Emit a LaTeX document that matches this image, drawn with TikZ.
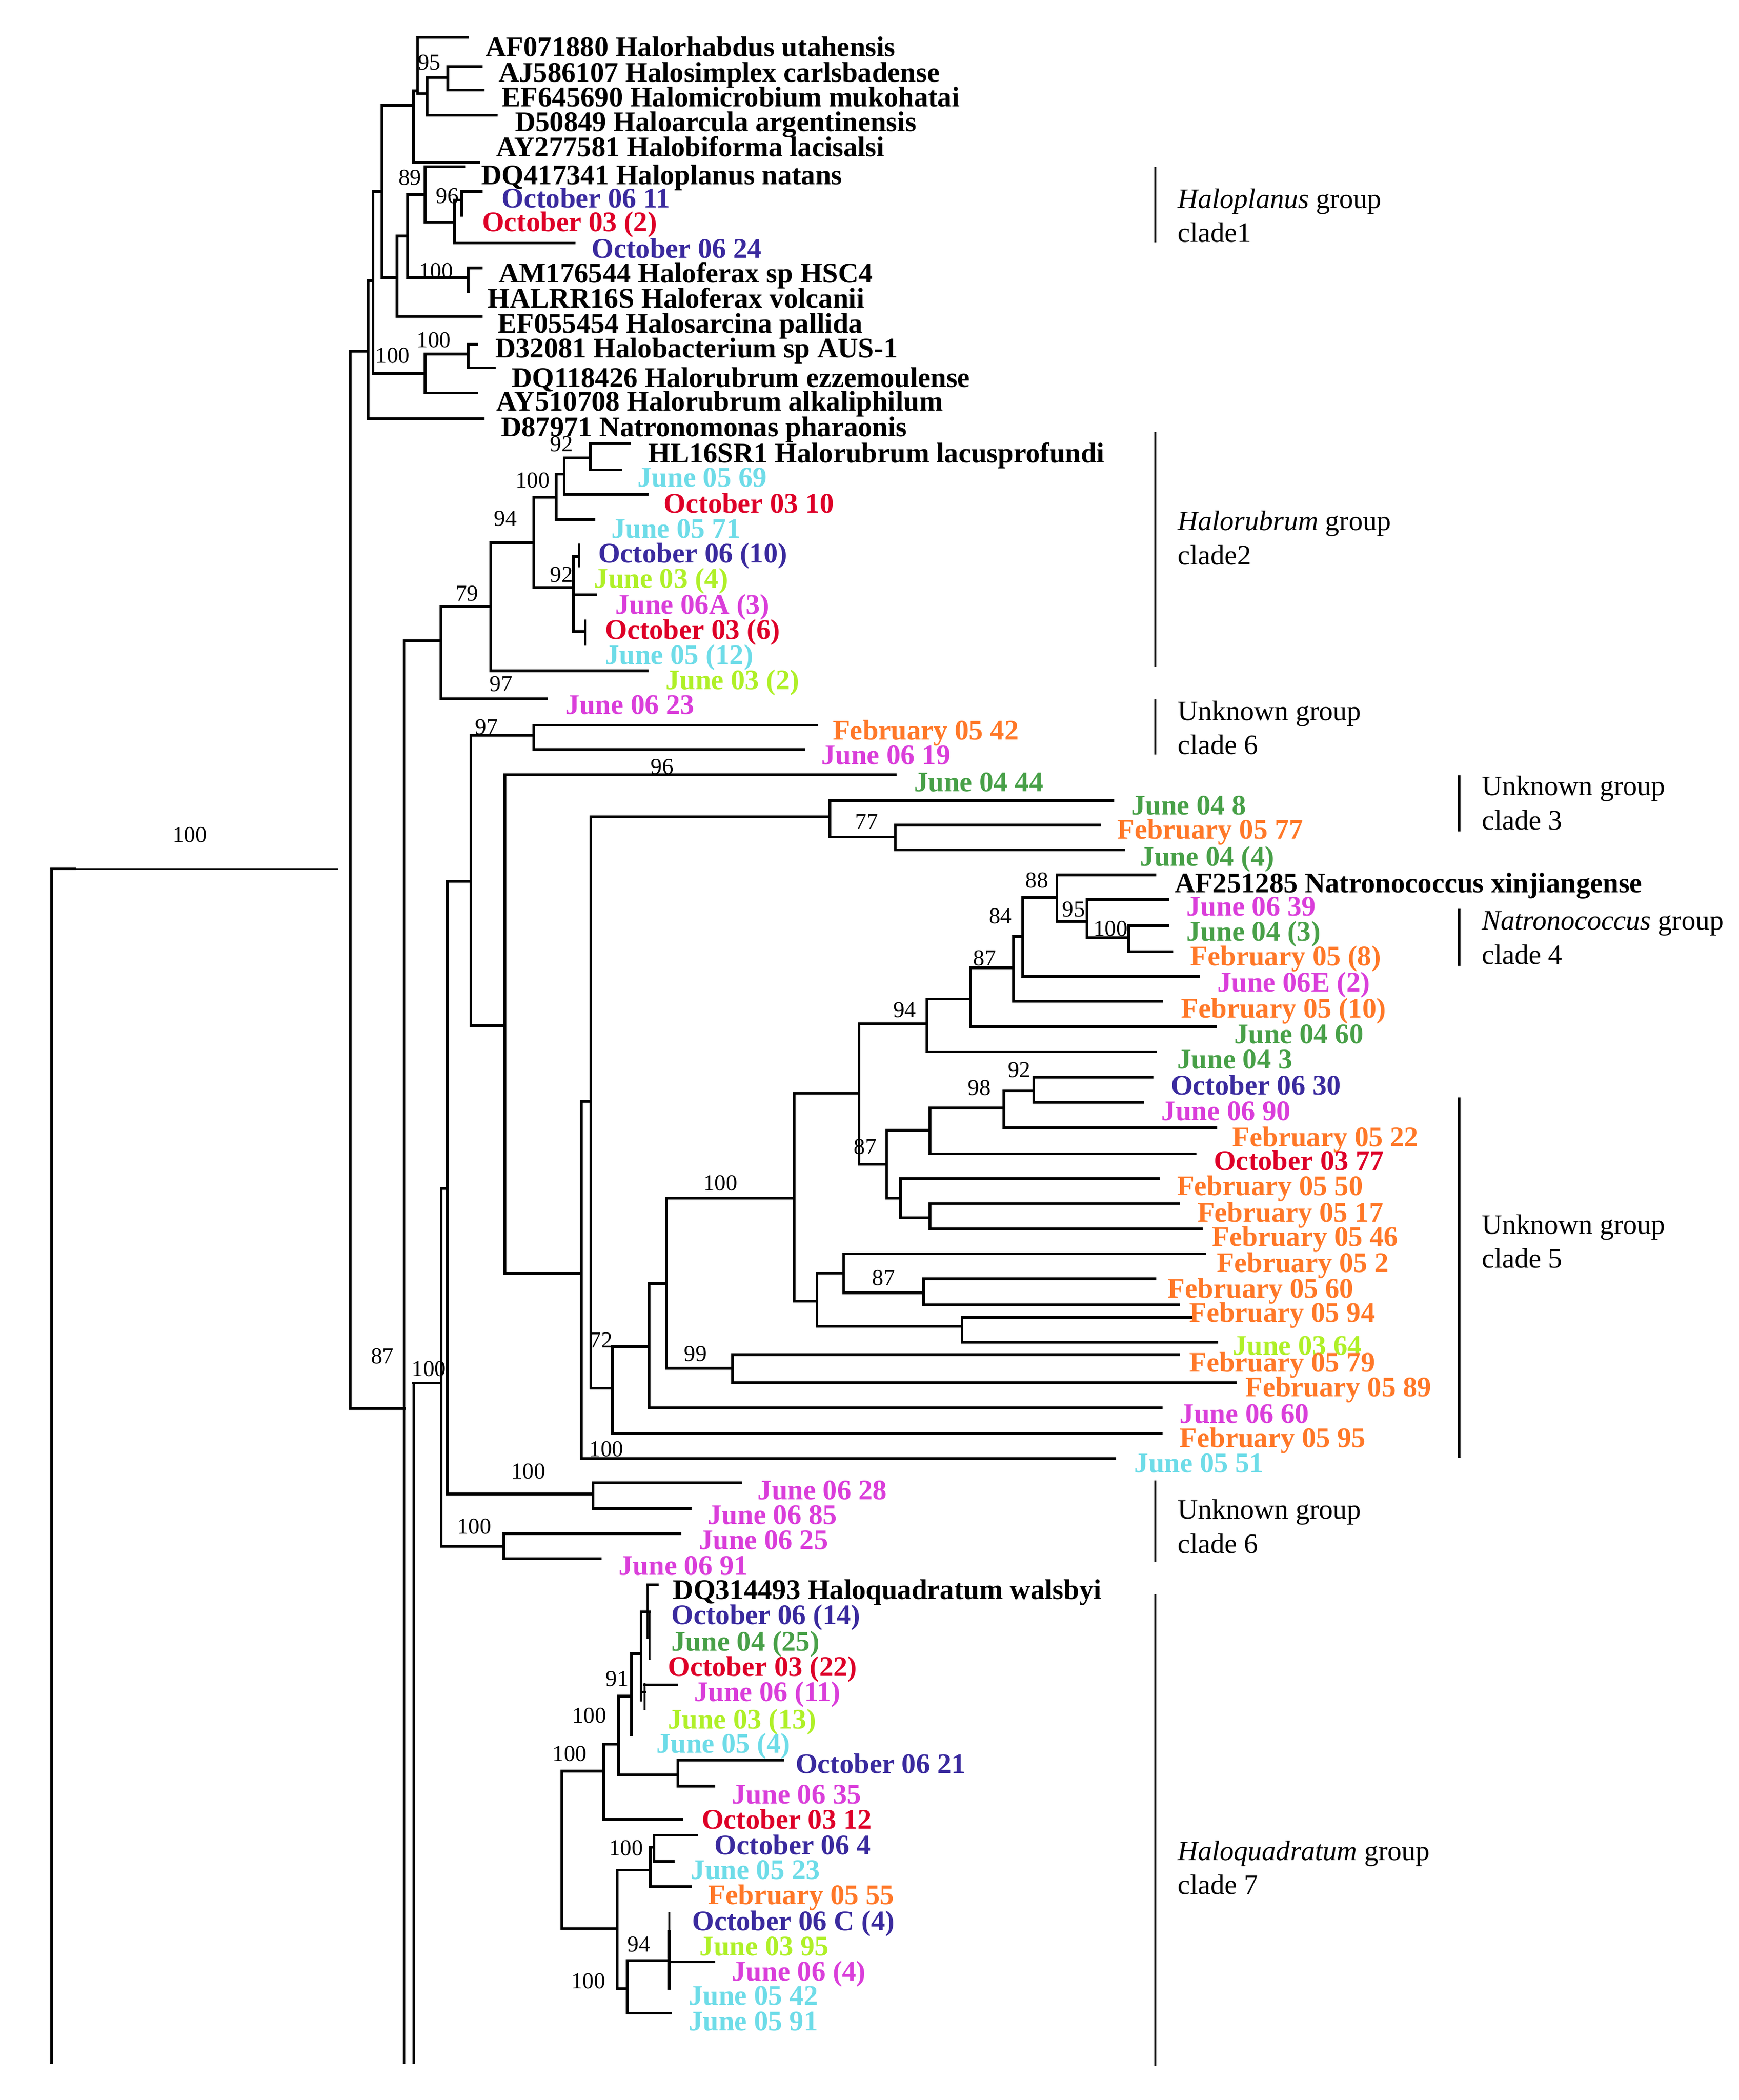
\documentclass[tikz,border=0pt]{standalone}
\usepackage{fontspec}
\setmainfont{Liberation Serif}
\definecolor{cblue}{RGB}{58,42,158}
\definecolor{cred}{RGB}{222,0,40}
\definecolor{ccyan}{RGB}{110,220,232}
\definecolor{cyg}{RGB}{175,240,40}
\definecolor{cmag}{RGB}{218,62,218}
\definecolor{corange}{RGB}{255,120,40}
\definecolor{cgreen}{RGB}{72,160,72}
\newcommand\brh[3]{\draw[br] (#2,#1) -- (#3,#1);}
\newcommand\brv[3]{\draw[br] (#1,#2) -- (#1,#3);}
\newcommand\tx[5]{\node[taxon,text=#4] (#1) at (#2,#3) {#5};}
\newcommand\bs[4]{\node[boot] (#1) at (#2,#3) {#4};}
\newcommand\clade[8]{\draw[bar] (#2,#3) -- (#2,#4);
  \node[clab] (#1a) at (#5,#6) {#7};
  \node[clab] (#1b) at (#5,{#6+25.5}) {#8};}
\begin{document}
\begin{tikzpicture}[x=1pt,y=-1pt,
 br/.style={line width=2pt,line cap=rect},
 taxon/.style={anchor=west,inner sep=0pt,text height=14pt,text depth=0pt,font=\fontsize{21.2}{21.2}\selectfont\bfseries},
 boot/.style={inner sep=0pt,font=\fontsize{17}{17}\selectfont},
 clab/.style={anchor=west,inner sep=0pt,text height=14pt,text depth=0pt,font=\fontsize{21}{21}\selectfont},
 bar/.style={line width=1.6pt}]
\useasboundingbox[fill=white] (0,0) rectangle (1300,1570);

% ---------- root ----------
\draw[line width=2pt] (38.7,1543) -- (38.7,649.5) -- (57,649.5);
\draw[line width=1pt] (57,649.5) -- (252.8,649.5);

% ---------- top group ----------
\brv{262}{262.6}{1053}
\brh{262.6}{262}{275.2}
\brv{275.2}{209.7}{313.1}
\brh{313.1}{275.2}{361.4}
\brh{209.7}{275.2}{279}
\brv{279}{143.2}{279.2}
\brh{279.2}{279}{317.8}
\brv{317.8}{264.7}{293.8}
\brh{293.8}{317.8}{356.6}
\brh{264.7}{317.8}{350.1}
\brv{350.1}{257.4}{275}
\brh{257.4}{350.1}{356.6}
\brh{275}{350.1}{369.5}
\brh{143.2}{279}{285.5}
\brv{285.5}{78.9}{207.6}
\brh{207.6}{285.5}{296.8}
\brv{296.8}{176.5}{236.7}
\brh{236.7}{296.8}{359.8}
\brh{176.5}{296.8}{304.9}
\brv{304.9}{145.3}{207.6}
\brh{207.6}{304.9}{350.1}
\brv{350.1}{200.3}{218}
\brh{200.3}{350.1}{359.8}
\brh{145.3}{304.9}{317.8}
\brv{317.8}{124.6}{166.1}
\brh{124.6}{317.8}{346.9}
\brh{166.1}{317.8}{339.8}
\brv{339.8}{149.5}{181.7}
\brh{181.7}{339.8}{429.2}
\brh{149.5}{339.8}{345.3}
\brv{345.3}{143.2}{160.9}
\brh{143.2}{345.3}{359.8}
\brh{78.9}{285.5}{309.1}
\brv{309.1}{68}{121.4}
\brh{121.4}{309.1}{358.2}
\brh{68}{309.1}{312.3}
\brv{312.3}{28}{70}
\brh{28}{312.3}{349.5}
\brh{70}{312.3}{319.4}
\brv{319.4}{58.1}{86.2}
\brh{86.2}{319.4}{371.1}
\brh{58.1}{319.4}{334.9}
\brv{334.9}{49.8}{67.5}
\brh{49.8}{334.9}{359.8}
\brh{67.5}{334.9}{361.4}

% ---------- Halorubrum group ----------
\draw[line width=1.8pt] (302.2,479) -- (302.2,1543);
\brh{1053}{262}{302.2}
\brh{479}{302.2}{329.6}
\brv{329.6}{453.5}{522.5}
\brh{522.5}{329.6}{408.8}
\brh{453.5}{329.6}{366.9}
\brv{366.9}{405.6}{501.5}
\brh{501.5}{366.9}{483.7}
\brh{405.6}{366.9}{399}
\brv{399}{371.9}{439.3}
\brh{371.9}{399}{415.9}
\brv{415.9}{354.6}{388.3}
\brh{388.3}{415.9}{444.1}
\brh{354.6}{415.9}{421.8}
\brv{421.8}{342.2}{369.6}
\brh{369.6}{421.8}{483.7}
\brh{342.2}{421.8}{441.4}
\brv{441.4}{331.4}{351.2}
\brh{331.4}{441.4}{470.8}
\brh{351.2}{441.4}{464.1}
\brh{439.3}{399}{428.8}
\brv{428.8}{416.1}{472.3}
\brh{416.1}{428.8}{432.7}
\draw[line width=1.4pt] (432.7,406.3) -- (432.7,424.3);
\brh{444.5}{428.8}{445.3}
\brh{472.3}{428.8}{437.4}
\draw[line width=1.4pt] (437.4,463.3) -- (437.4,482.8);

% ---------- middle ----------
\draw[line width=1.8pt] (309.2,1034) -- (309.2,1543);
\brh{1034}{309.2}{330}
\brv{330}{888.6}{1156.1}
\brh{1156.1}{330}{376.7}
\brv{376.7}{1146.5}{1165.2}
\brh{1146.5}{376.7}{508.5}
\brh{1165.2}{376.7}{448.7}
\brh{888.6}{330}{334.5}
\brv{334.5}{659}{1116.9}
\brh{1116.9}{334.5}{443.5}
\brv{443.5}{1108.5}{1127.8}
\brh{1108.5}{443.5}{553.5}
\brh{1127.8}{443.5}{516.2}
\brh{659}{334.5}{352}
\brv{352}{549.6}{767}
\brh{549.6}{352}{399}
\brv{399}{542.2}{560.4}
\brh{542.2}{399}{610.7}
\brh{560.4}{399}{600.9}
\brh{767}{352}{377.5}
\brv{377.5}{579}{952}
\brh{579}{377.5}{669.5}
\brh{952}{377.5}{434.7}
\brv{434.7}{823.4}{1090.5}
\brh{1090.5}{434.7}{833.7}
\brh{823.4}{434.7}{441.6}
\brv{441.6}{610.5}{1038}
\brh{610.5}{441.6}{620.5}
\brv{620.5}{598.4}{625.8}
\brh{598.4}{620.5}{832.2}
\brh{625.8}{620.5}{669.5}
\brv{669.5}{616.9}{635.5}
\brh{616.9}{669.5}{822.4}
\brh{635.5}{669.5}{840}
\brh{1038}{441.6}{457.8}
\brv{457.8}{1006.6}{1071.8}
\brh{1071.8}{457.8}{868.3}
\brh{1006.6}{457.8}{485.4}
\brv{485.4}{959.6}{1052.5}
\brh{1052.5}{485.4}{868.3}
\brh{959.6}{485.4}{498.4}
\brv{498.4}{895.8}{1022.9}
\brh{1022.9}{498.4}{547.7}
\brv{547.7}{1012.7}{1033.8}
\brh{1012.7}{547.7}{881.2}
\brh{1033.8}{547.7}{923.7}
\brh{895.8}{498.4}{593.9}
\brv{593.9}{817.4}{972.9}
\brh{972.9}{593.9}{610.9}
\brv{610.9}{951.8}{991.6}
\brh{951.8}{610.9}{630.8}
\brv{630.8}{937.4}{966.6}
\brh{937.4}{630.8}{900.6}
\brh{966.6}{630.8}{690.7}
\brv{690.7}{956}{975.3}
\brh{956}{690.7}{863.7}
\brh{975.3}{690.7}{881.2}
\brh{991.6}{610.9}{719.3}
\brv{719.3}{984.9}{1003.6}
\brh{984.9}{719.3}{891.4}
\brh{1003.6}{719.3}{909.9}
\brh{817.4}{593.9}{642.3}
\brv{642.3}{765.5}{870.5}
\brh{765.5}{642.3}{693}
\brv{693}{746.9}{786.3}
\brh{786.3}{693}{863.8}
\brh{746.9}{693}{725.5}
\brv{725.5}{723.5}{767.6}
\brh{767.6}{725.5}{908.8}
\brh{723.5}{725.5}{757.7}
\brv{757.7}{700.1}{748.6}
\brh{748.6}{757.7}{868.7}
\brh{700.1}{757.7}{764.8}
\brv{764.8}{671}{730}
\brh{730}{764.8}{896}
\brh{671}{764.8}{790.3}
\brv{790.3}{654.1}{688.8}
\brh{654.1}{790.3}{863.6}
\brh{688.8}{790.3}{812.6}
\brv{812.6}{672.6}{700.9}
\brh{672.6}{812.6}{873.4}
\brh{700.9}{812.6}{844}
\brv{844}{692}{711.4}
\brh{692}{844}{873.4}
\brh{711.4}{844}{876.1}
\brh{870.5}{642.3}{663}
\brv{663}{845.1}{895.8}
\brh{845.1}{663}{695.3}
\brv{695.3}{828.3}{862.6}
\brh{862.6}{695.3}{893.7}
\brh{828.3}{695.3}{750.7}
\brv{750.7}{815.6}{843.3}
\brh{843.3}{750.7}{909}
\brh{815.6}{750.7}{772.8}
\brv{772.8}{805.3}{824}
\brh{805.3}{772.8}{861.4}
\brh{824}{772.8}{854.5}
\brh{895.8}{663}{673.2}
\brv{673.2}{881.1}{910.3}
\brh{881.1}{673.2}{866}
\brh{910.3}{673.2}{695.3}
\brv{695.3}{899.8}{918.7}
\brh{899.8}{695.3}{881.2}
\brh{918.7}{695.3}{898.3}

% ---------- Haloquadratum ----------
\brh{1184.8}{484.1}{491.6}
\draw[line width=1.4pt] (484.1,1184.8) -- (484.1,1225);
\brh{1205}{479.3}{485.8}
\draw[line width=1.2pt] (485.8,1205) -- (485.8,1241);
\brv{479.3}{1205}{1271}
\brh{1236.3}{472.2}{479.3}
\draw[line width=1.4pt] (481.9,1258.4) -- (481.9,1278.5);
\brh{1265}{479.3}{481.9}
\brh{1259.5}{481.9}{506.1}
\brv{472.2}{1236.3}{1297.2}
\brh{1268.1}{462.5}{472.2}
\brv{462.5}{1268.1}{1327}
\brh{1327}{462.5}{506.8}
\brv{506.8}{1315.9}{1335.3}
\brh{1315.9}{506.8}{585.2}
\brh{1335.3}{506.8}{533.6}
\brh{1304.1}{451.2}{462.5}
\brv{451.2}{1304.1}{1360.2}
\brh{1360.2}{451.2}{510}
\brh{1324.2}{420.2}{451.2}
\brv{420.2}{1324.2}{1441.8}
\brh{1441.8}{420.2}{461.5}
\brv{461.5}{1398}{1486.8}
\brh{1398}{461.5}{486.4}
\brv{486.4}{1381}{1410.6}
\brh{1410.6}{486.4}{516.4}
\brh{1381}{486.4}{489}
\brv{489}{1372}{1391.8}
\brh{1372}{489}{520.6}
\brh{1391.8}{489}{503.5}
\brh{1486.8}{461.5}{469}
\brv{469}{1465.6}{1505}
\brh{1505}{469}{501.3}
\brh{1465.6}{469}{498.7}
\draw[line width=1.4pt] (500.3,1429.3) -- (500.3,1443);
\draw[line width=2.6pt] (500.3,1443) -- (500.3,1487.4);
\brh{1466.8}{500.3}{533.6}

% ---------- taxa ----------
\tx{t1}{363}{35.3}{black}{AF071880 Halorhabdus utahensis}
\tx{t2}{372.7}{54.4}{black}{AJ586107 Halosimplex carlsbadense}
\tx{t3}{375}{72.7}{black}{EF645690 Halomicrobium mukohatai}
\tx{t4}{385}{91.3}{black}{D50849 Haloarcula argentinensis}
\tx{t5}{371}{110}{black}{AY277581 Halobiforma lacisalsi}
\tx{t6}{359.8}{130.8}{black}{DQ417341 Haloplanus natans}
\tx{t7}{375}{148.4}{cblue}{October 06 11}
\tx{t8}{360.4}{166}{cred}{October 03 (2)}
\tx{t9}{442.2}{185.8}{cblue}{October 06 24}
\tx{t10}{372.7}{204.5}{black}{AM176544 Haloferax sp HSC4}
\tx{t11}{364.6}{223.2}{black}{HALRR16S Haloferax volcanii}
\tx{t12}{372}{241.9}{black}{EF055454 Halosarcina pallida}
\tx{t13}{370.1}{260.5}{black}{D32081 Halobacterium sp AUS-1}
\tx{t14}{382.4}{282.3}{black}{DQ118426 Halorubrum ezzemoulense}
\tx{t15}{371.1}{300}{black}{AY510708 Halorubrum alkaliphilum}
\tx{t16}{374.5}{319.5}{black}{D87971 Natronomonas pharaonis}
\tx{t17}{484.5}{338.9}{black}{HL16SR1 Halorubrum lacusprofundi}
\tx{t18}{476.6}{356.9}{ccyan}{June 05 69}
\tx{t19}{496.2}{376.4}{cred}{October 03 10}
\tx{t20}{457}{395.1}{ccyan}{June 05 71}
\tx{t21}{447.2}{413.8}{cblue}{October 06 (10)}
\tx{t22}{444.1}{432.6}{cyg}{June 03 (4)}
\tx{t23}{459.8}{452}{cmag}{June 06A (3)}
\tx{t24}{452.3}{470.8}{cred}{October 03 (6)}
\tx{t25}{452.3}{489.5}{ccyan}{June 05 (12)}
\tx{t26}{497.4}{508.3}{cyg}{June 03 (2)}
\tx{t27}{422.5}{527}{cmag}{June 06 23}
\tx{t28}{622.5}{545.9}{corange}{February 05 42}
\tx{t29}{613.9}{564.4}{cmag}{June 06 19}
\tx{t30}{683.3}{584.6}{cgreen}{June 04 44}
\tx{t31}{845.6}{602.2}{cgreen}{June 04 8}
\tx{t32}{835.2}{620.2}{corange}{February 05 77}
\tx{t33}{852.4}{640.3}{cgreen}{June 04 (4)}
\tx{t34}{878.3}{660.3}{black}{AF251285 Natronococcus xinjiangense}
\tx{t35}{887}{677.7}{cmag}{June 06 39}
\tx{t36}{887}{696.3}{cgreen}{June 04 (3)}
\tx{t37}{889.9}{715}{corange}{February 05 (8)}
\tx{t38}{910}{734.4}{cmag}{June 06E (2)}
\tx{t39}{883}{753.8}{corange}{February 05 (10)}
\tx{t40}{922.7}{773.2}{cgreen}{June 04 60}
\tx{t41}{880.1}{792}{cgreen}{June 04 3}
\tx{t42}{875.2}{811.4}{cblue}{October 06 30}
\tx{t43}{868.3}{830.7}{cmag}{June 06 90}
\tx{t44}{921.4}{850}{corange}{February 05 22}
\tx{t45}{907.5}{868}{cred}{October 03 77}
\tx{t46}{879.9}{886.7}{corange}{February 05 50}
\tx{t47}{895.1}{906.6}{corange}{February 05 17}
\tx{t48}{906.2}{924.7}{corange}{February 05 46}
\tx{t49}{909.8}{944}{corange}{February 05 2}
\tx{t50}{873}{963.2}{corange}{February 05 60}
\tx{t51}{889}{981.5}{corange}{February 05 94}
\tx{t52}{921.5}{1006}{cyg}{June 03 64}
\tx{t53}{889}{1018.5}{corange}{February 05 79}
\tx{t54}{931}{1037}{corange}{February 05 89}
\tx{t55}{882}{1056.8}{cmag}{June 06 60}
\tx{t56}{882}{1075.2}{corange}{February 05 95}
\tx{t57}{848}{1094}{ccyan}{June 05 51}
\tx{t58}{566.3}{1113.9}{cmag}{June 06 28}
\tx{t59}{529}{1132.6}{cmag}{June 06 85}
\tx{t60}{522.4}{1151.3}{cmag}{June 06 25}
\tx{t61}{462.5}{1170.6}{cmag}{June 06 91}
\tx{t62}{503}{1188.7}{black}{DQ314493 Haloquadratum walsbyi}
\tx{t63}{501.9}{1207.3}{cblue}{October 06 (14)}
\tx{t64}{501.9}{1227.3}{cgreen}{June 04 (25)}
\tx{t65}{499.3}{1246}{cred}{October 03 (22)}
\tx{t66}{518.7}{1264.7}{cmag}{June 06 (11)}
\tx{t67}{499.3}{1285.4}{cyg}{June 03 (13)}
\tx{t68}{490.6}{1303.4}{ccyan}{June 05 (4)}
\tx{t69}{594.6}{1318.6}{cblue}{October 06 21}
\tx{t70}{547.1}{1341.5}{cmag}{June 06 35}
\tx{t71}{524.5}{1360.2}{cred}{October 03 12}
\tx{t72}{534.2}{1379.5}{cblue}{October 06 4}
\tx{t73}{516.4}{1398}{ccyan}{June 05 23}
\tx{t74}{529.4}{1416.8}{corange}{February 05 55}
\tx{t75}{517.4}{1436.2}{cblue}{October 06 C (4)}
\tx{t76}{523}{1455}{cyg}{June 03 95}
\tx{t77}{547.1}{1473.7}{cmag}{June 06 (4)}
\tx{t78}{514.8}{1491.8}{ccyan}{June 05 42}
\tx{t79}{514.8}{1511.2}{ccyan}{June 05 91}

% ---------- bootstrap values ----------
\bs{b1}{321}{46.7}{95}
\bs{b2}{306.5}{132.9}{89}
\bs{b3}{334.6}{146.4}{96}
\bs{b4}{325.9}{202.4}{100}
\bs{b5}{324.3}{254.3}{100}
\bs{b6}{293.6}{265.7}{100}
\bs{b7}{419.8}{332.1}{92}
\bs{b8}{398.2}{359.1}{100}
\bs{b9}{377.9}{387.6}{94}
\bs{b10}{419.8}{429.6}{92}
\bs{b11}{349.2}{443.8}{79}
\bs{b12}{374.7}{511.3}{97}
\bs{b13}{363.8}{543.4}{97}
\bs{b14}{495.1}{573.3}{96}
\bs{b15}{648}{614.5}{77}
\bs{b16}{775.4}{658.1}{88}
\bs{b17}{802.8}{679.9}{95}
\bs{b18}{830.3}{694.4}{100}
\bs{b19}{748}{684.7}{84}
\bs{b20}{736.2}{716.2}{87}
\bs{b21}{676.5}{755}{94}
\bs{b22}{762.2}{799.9}{92}
\bs{b23}{732.2}{813.2}{98}
\bs{b24}{646.9}{857.2}{87}
\bs{b25}{538.5}{884.3}{100}
\bs{b26}{660.7}{955.4}{87}
\bs{b27}{449.5}{1001.8}{72}
\bs{b28}{520}{1012.1}{99}
\bs{b29}{453.5}{1083.2}{100}
\bs{b30}{395.1}{1100.1}{100}
\bs{b31}{354.6}{1141.1}{100}
\bs{b32}{286}{1014}{87}
\bs{b33}{320.7}{1023.4}{100}
\bs{b34}{142}{624}{100}
\bs{b35}{461.5}{1255}{91}
\bs{b36}{440.5}{1282.7}{100}
\bs{b37}{426}{1311}{100}
\bs{b38}{468}{1381.6}{100}
\bs{b39}{477.7}{1453.7}{94}
\bs{b40}{439.9}{1481.2}{100}

% ---------- clade labels ----------
\clade{c1}{863.8}{124.6}{181}{880.5}{148.6}{\textit{Haloplanus} group}{clade1}
\clade{c2}{863.8}{323}{498.8}{880.5}{389.5}{\textit{Halorubrum} group}{clade2}
\clade{c3}{863.8}{523}{564}{880.5}{531.4}{Unknown group}{clade 6}
\clade{c4}{1091}{579.6}{621.7}{1108}{587.7}{Unknown group}{clade 3}
\clade{c5}{1091}{679.3}{722.1}{1108}{688.2}{\textit{Natronococcus} group}{clade 4}
\clade{c6}{1091}{820.5}{1089.9}{1108}{915.5}{Unknown group}{clade 5}
\clade{c7}{863.8}{1106.9}{1168}{880.5}{1128.6}{Unknown group}{clade 6}
\clade{c8}{863.8}{1191.7}{1544.6}{880.5}{1383.7}{\textit{Haloquadratum} group}{clade 7}
\end{tikzpicture}
\end{document}
